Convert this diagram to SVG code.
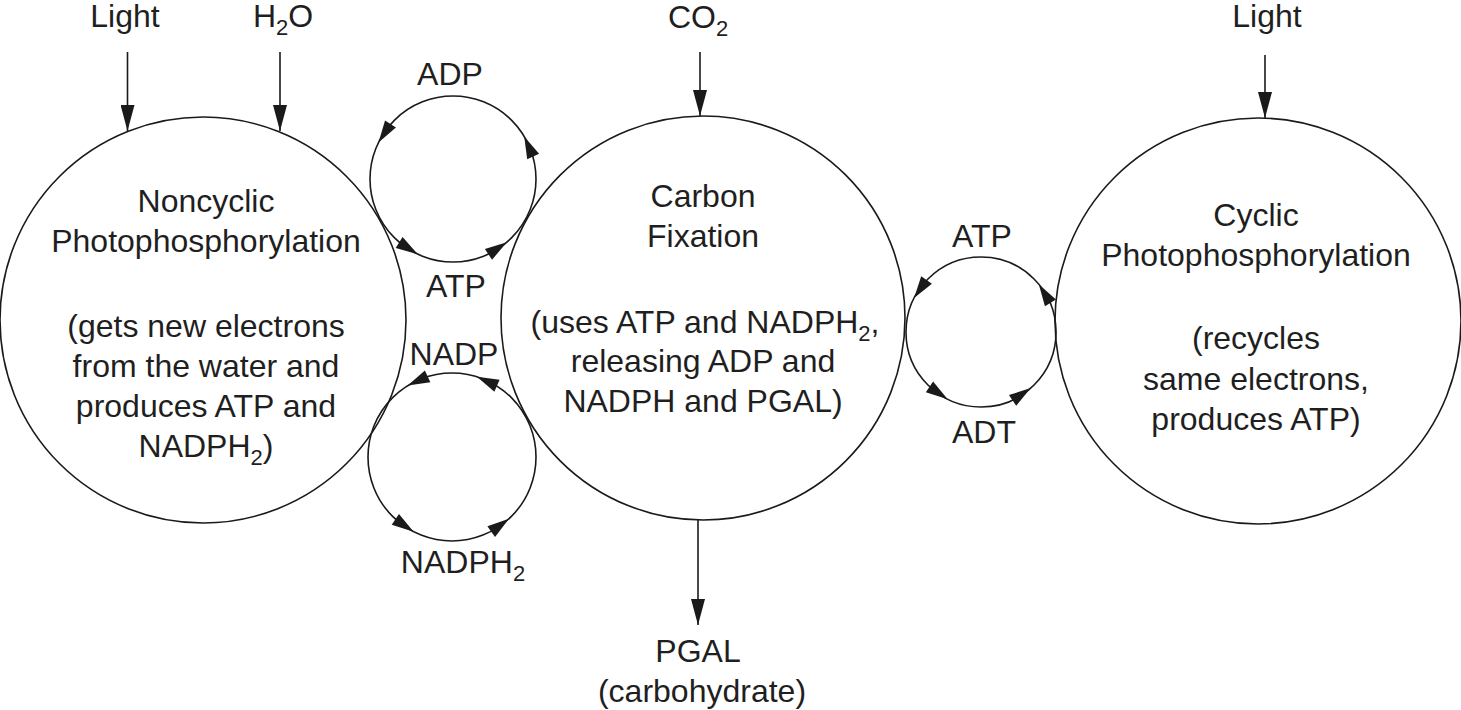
<svg xmlns="http://www.w3.org/2000/svg" xmlns:xlink="http://www.w3.org/1999/xlink" width="1461" height="710" viewBox="0 0 1461 710">
<style>
  .big { fill: none; stroke: #1a1a1a; stroke-width: 1.6; }
  .ring { fill: none; stroke: #1a1a1a; stroke-width: 1.6; }
  .ln { stroke: #1a1a1a; stroke-width: 1.6; fill: none; }
  .ah { fill: #1a1a1a; }
  text { font-family: "Liberation Sans", Arial, Helvetica, sans-serif; font-size: 32px; fill: #1f1f1f; text-anchor: middle; }
  .sub { font-size: 22px; }
</style>
<defs>
  <marker id="arr" markerUnits="userSpaceOnUse" markerWidth="26" markerHeight="14" refX="26" refY="7" orient="auto">
    <path d="M0,0 L26,7 L0,14 Z" fill="#1a1a1a"/>
  </marker>
  <path id="tri" d="M0,0 L-22,-6.5 L-22,6.5 Z"/>
</defs>
<rect width="1461" height="710" fill="#ffffff"/>

<g id="noncyclic">
  <circle class="big" cx="203" cy="320" r="203"/>
  <text x="206" y="212">Noncyclic</text>
  <text x="206" y="252">Photophosphorylation</text>
  <text x="206" y="337">(gets new electrons</text>
  <text x="206" y="377">from the water and</text>
  <text x="206" y="417">produces ATP and</text>
  <text x="206" y="457">NADPH<tspan class="sub" dy="8">2</tspan><tspan dy="-8">)</tspan></text>
</g>

<g id="carbon-fixation">
  <circle class="big" cx="703" cy="318" r="202"/>
  <text x="703" y="207">Carbon</text>
  <text x="703" y="247">Fixation</text>
  <text x="705" y="333">(uses ATP and NADPH<tspan class="sub" dy="8">2</tspan><tspan dy="-8">,</tspan></text>
  <text x="703" y="372">releasing ADP and</text>
  <text x="703" y="412">NADPH and PGAL)</text>
</g>

<g id="cyclic">
  <circle class="big" cx="1258" cy="321" r="203"/>
  <text x="1256" y="226">Cyclic</text>
  <text x="1256" y="266">Photophosphorylation</text>
  <text x="1256" y="349">(recycles</text>
  <text x="1256" y="390">same electrons,</text>
  <text x="1256" y="430">produces ATP)</text>
</g>

<g id="input-light-1"><text x="125" y="27">Light</text></g>
<g id="input-h2o"><text x="283" y="27">H<tspan class="sub" dy="8">2</tspan><tspan dy="-8">O</tspan></text></g>
<g id="input-co2"><text x="698" y="28">CO<tspan class="sub" dy="8">2</tspan></text></g>
<g id="input-light-2"><text x="1267" y="27">Light</text></g>
<g id="output-pgal">
  <text x="698" y="662">PGAL</text>
  <text x="702" y="702">(carbohydrate)</text>
</g>

<g id="label-adp-top"><text x="450" y="85">ADP</text></g>
<g id="label-atp-top"><text x="456" y="297">ATP</text></g>
<g id="label-nadp"><text x="454" y="365">NADP</text></g>
<g id="label-nadph2"><text x="463" y="573">NADPH<tspan class="sub" dy="8">2</tspan></text></g>
<g id="label-atp-right"><text x="982" y="247">ATP</text></g>
<g id="label-adt"><text x="984" y="443">ADT</text></g>

<g id="connectors">
  <line class="ln" x1="127.5" y1="52" x2="127.5" y2="131" marker-end="url(#arr)"/>
  <line class="ln" x1="280" y1="52" x2="280" y2="131" marker-end="url(#arr)"/>
  <line class="ln" x1="700" y1="52" x2="700" y2="116" marker-end="url(#arr)"/>
  <line class="ln" x1="1265" y1="55" x2="1265" y2="118" marker-end="url(#arr)"/>
  <line class="ln" x1="698" y1="520" x2="698" y2="625" marker-end="url(#arr)"/>

  <g id="cycle-adp-atp">
    <circle class="ring" cx="453" cy="179" r="83"/>
    <use class="ah" xlink:href="#tri" href="#tri" transform="translate(378.5,142.5) rotate(123)"/>
    <use class="ah" xlink:href="#tri" href="#tri" transform="translate(524.2,136.4) rotate(-114)"/>
    <use class="ah" xlink:href="#tri" href="#tri" transform="translate(417.8,254.2) rotate(32)"/>
    <use class="ah" xlink:href="#tri" href="#tri" transform="translate(506.8,242.2) rotate(-33.5)"/>
  </g>
  <g id="cycle-nadp-nadph2">
    <circle class="ring" cx="452" cy="457" r="84"/>
    <use class="ah" xlink:href="#tri" href="#tri" transform="translate(407.7,385.6) rotate(155)"/>
    <use class="ah" xlink:href="#tri" href="#tri" transform="translate(476.9,376.8) rotate(-156)"/>
    <use class="ah" xlink:href="#tri" href="#tri" transform="translate(413.6,531.7) rotate(34)"/>
    <use class="ah" xlink:href="#tri" href="#tri" transform="translate(509,518.7) rotate(-36)"/>
  </g>
  <g id="cycle-atp-adt">
    <circle class="ring" cx="981" cy="332" r="75"/>
    <use class="ah" xlink:href="#tri" href="#tri" transform="translate(914.1,298.1) rotate(124.5)"/>
    <use class="ah" xlink:href="#tri" href="#tri" transform="translate(1038.8,284.2) rotate(-122)"/>
    <use class="ah" xlink:href="#tri" href="#tri" transform="translate(947.7,399.2) rotate(34)"/>
    <use class="ah" xlink:href="#tri" href="#tri" transform="translate(1030.8,388.1) rotate(-34)"/>
  </g>
</g>
</svg>
